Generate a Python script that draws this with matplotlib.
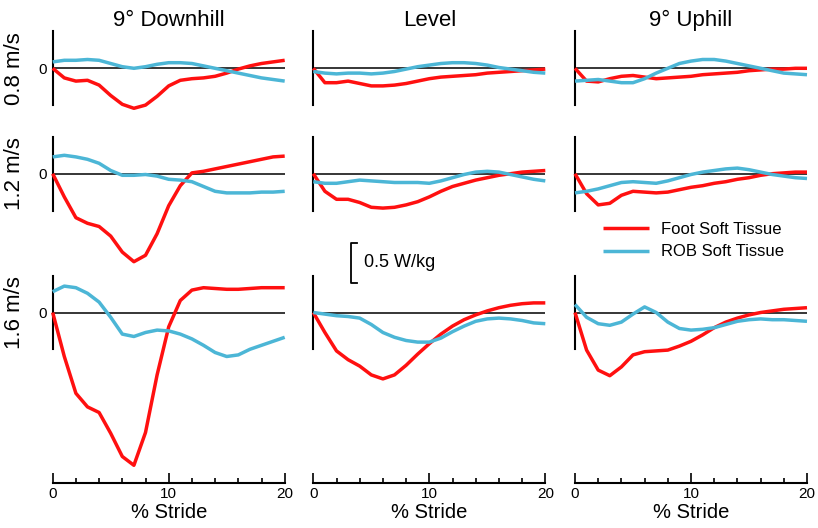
import numpy as np
import matplotlib.pyplot as plt
from matplotlib.ticker import MultipleLocator

plt.rcParams['font.family'] = ['Liberation Sans', 'DejaVu Sans']

# % stride sample points
stride = np.arange(0, 21)

slopes = ['9° Downhill', 'Level', '9° Uphill']
speeds = ['0.8 m/s', '1.2 m/s', '1.6 m/s']
series_names = ['Foot Soft Tissue', 'ROB Soft Tissue']

# power (W/kg)
foot_down_08 = [0, -0.12, -0.16, -0.15, -0.21, -0.34, -0.45, -0.50, -0.46, -0.35, -0.22,
                -0.15, -0.13, -0.12, -0.10, -0.06, -0.01, 0.03, 0.06, 0.08, 0.10]
rob_down_08 = [0.08, 0.10, 0.10, 0.11, 0.10, 0.06, 0.02, 0.00, 0.02, 0.05, 0.07,
               0.07, 0.06, 0.03, 0.00, -0.03, -0.06, -0.09, -0.12, -0.14, -0.16]
foot_down_12 = [0, -0.29, -0.55, -0.62, -0.66, -0.78, -0.98, -1.10, -1.02, -0.75, -0.40,
                -0.15, 0.01, 0.03, 0.06, 0.09, 0.12, 0.15, 0.18, 0.21, 0.22]
rob_down_12 = [0.21, 0.23, 0.21, 0.18, 0.13, 0.04, -0.02, -0.02, -0.01, -0.03, -0.07,
               -0.08, -0.10, -0.16, -0.22, -0.24, -0.24, -0.24, -0.23, -0.23, -0.22]
foot_down_16 = [0, -0.55, -1.01, -1.18, -1.25, -1.51, -1.80, -1.91, -1.50, -0.78, -0.18,
                0.15, 0.28, 0.31, 0.30, 0.29, 0.29, 0.30, 0.31, 0.31, 0.31]
rob_down_16 = [0.26, 0.33, 0.31, 0.24, 0.13, -0.06, -0.27, -0.30, -0.25, -0.22, -0.23,
               -0.27, -0.33, -0.41, -0.50, -0.55, -0.53, -0.46, -0.41, -0.36, -0.31]

foot_level_08 = [0, -0.18, -0.18, -0.16, -0.19, -0.22, -0.22, -0.21, -0.19, -0.16, -0.13,
                 -0.11, -0.10, -0.09, -0.08, -0.06, -0.05, -0.04, -0.03, -0.02, -0.01]
rob_level_08 = [-0.04, -0.06, -0.07, -0.06, -0.06, -0.07, -0.06, -0.04, -0.01, 0.02, 0.04,
                0.06, 0.07, 0.07, 0.06, 0.04, 0.01, -0.01, -0.03, -0.05, -0.06]
foot_level_12 = [0, -0.22, -0.32, -0.32, -0.36, -0.42, -0.43, -0.42, -0.39, -0.35, -0.29,
                 -0.22, -0.16, -0.12, -0.08, -0.05, -0.02, 0.00, 0.02, 0.03, 0.04]
rob_level_12 = [-0.10, -0.12, -0.12, -0.10, -0.08, -0.09, -0.10, -0.11, -0.11, -0.11, -0.12,
                -0.09, -0.05, -0.01, 0.02, 0.03, 0.02, -0.01, -0.04, -0.07, -0.09]
foot_level_16 = [0, -0.25, -0.48, -0.59, -0.67, -0.78, -0.83, -0.78, -0.66, -0.52, -0.39,
                 -0.27, -0.17, -0.09, -0.03, 0.02, 0.06, 0.09, 0.11, 0.12, 0.12]
rob_level_16 = [0.00, -0.02, -0.04, -0.05, -0.07, -0.15, -0.25, -0.31, -0.35, -0.37, -0.37,
                -0.32, -0.24, -0.17, -0.11, -0.08, -0.07, -0.08, -0.10, -0.13, -0.14]

foot_up_08 = [0, -0.16, -0.17, -0.13, -0.10, -0.09, -0.11, -0.13, -0.12, -0.11, -0.10,
              -0.08, -0.07, -0.06, -0.05, -0.03, -0.02, -0.01, -0.01, 0.00, 0.00]
rob_up_08 = [-0.16, -0.15, -0.14, -0.16, -0.18, -0.18, -0.13, -0.06, 0.00, 0.06, 0.09,
             0.11, 0.11, 0.09, 0.06, 0.03, 0.00, -0.03, -0.06, -0.07, -0.08]
foot_up_12 = [0, -0.25, -0.39, -0.37, -0.27, -0.22, -0.23, -0.24, -0.23, -0.20, -0.17,
              -0.15, -0.12, -0.10, -0.07, -0.05, -0.02, 0.00, 0.01, 0.02, 0.02]
rob_up_12 = [-0.24, -0.22, -0.19, -0.15, -0.11, -0.10, -0.11, -0.12, -0.09, -0.05, -0.01,
             0.02, 0.04, 0.06, 0.07, 0.05, 0.02, -0.01, -0.03, -0.05, -0.06]
foot_up_16 = [0, -0.47, -0.72, -0.79, -0.68, -0.53, -0.49, -0.48, -0.47, -0.42, -0.36,
              -0.28, -0.19, -0.12, -0.07, -0.03, 0.00, 0.02, 0.04, 0.05, 0.06]
rob_up_16 = [0.10, -0.06, -0.14, -0.16, -0.12, -0.02, 0.07, 0.00, -0.12, -0.20, -0.22,
             -0.21, -0.19, -0.15, -0.11, -0.09, -0.08, -0.09, -0.09, -0.10, -0.11]

# rows = speeds, cols = slopes
foot = [[foot_down_08, foot_level_08, foot_up_08],
        [foot_down_12, foot_level_12, foot_up_12],
        [foot_down_16, foot_level_16, foot_up_16]]
rob = [[rob_down_08, rob_level_08, rob_up_08],
       [rob_down_12, rob_level_12, rob_up_12],
       [rob_down_16, rob_level_16, rob_up_16]]

scale_bar = 0.5  # W/kg

RED = '#ff1010'
BLUE = '#4cb6d6'

# layout, in pixels
W, H = 818, 528
col_left = [52.7, 313.3, 575.0]
panel_w = 232.0
row_zero = [68.3, 173.7, 312.5]
px_per_unit = 80.0
y_half = 0.46
xaxis_px = 483.0

fig = plt.figure(figsize=(W / 100, H / 100), dpi=100)

axes = {}
for r in range(3):
    for c in range(3):
        h = 2 * y_half * px_per_unit
        ax = fig.add_axes([col_left[c] / W, 1 - (row_zero[r] + h / 2) / H,
                           panel_w / W, h / H])
        axes[r, c] = ax
        ax.set_xlim(0, 20)
        ax.set_ylim(-y_half, y_half)
        ax.patch.set_visible(False)
        for s in ['top', 'right']:
            ax.spines[s].set_visible(False)
        ax.spines['left'].set_linewidth(1.5)
        ax.axhline(0, color='black', lw=1.1, zorder=1)
        l1, = ax.plot(stride, foot[r][c], color=RED, lw=2.5, clip_on=False,
                      solid_joinstyle='round', solid_capstyle='butt', zorder=3)
        l2, = ax.plot(stride, rob[r][c], color=BLUE, lw=2.5, clip_on=False,
                      solid_joinstyle='round', solid_capstyle='butt', zorder=4)
        if c == 0:
            ax.set_yticks([0])
            ax.set_yticklabels(['0'], fontsize=11)
            ax.tick_params(axis='y', length=0, pad=4)
        else:
            ax.set_yticks([])
        if r == 2:
            ax.spines['bottom'].set_position(('data', -(xaxis_px - row_zero[r]) / px_per_unit))
            ax.spines['bottom'].set_linewidth(1.5)
            ax.xaxis.set_major_locator(MultipleLocator(10))
            ax.xaxis.set_minor_locator(MultipleLocator(2))
            ax.tick_params(axis='x', which='major', direction='in', length=7, width=1.2,
                           labelsize=11, pad=3)
            ax.tick_params(axis='x', which='minor', direction='in', length=3.6, width=1.2)
            ax.set_xlabel('% Stride', fontsize=14.5, labelpad=1)
        else:
            ax.spines['bottom'].set_visible(False)
            ax.set_xticks([])

# column titles and row labels
for c, name in enumerate(slopes):
    fig.text((col_left[c] + panel_w / 2) / W, 1 - 26 / H, name,
             ha='center', va='baseline', fontsize=16)
for r, name in enumerate(speeds):
    fig.text(15 / W, 1 - row_zero[r] / H, name, rotation=90,
             ha='center', va='center', fontsize=16)

# scale bar in the Level / 1.6 m/s panel
sb = axes[2, 1]
bar_bottom = 0.37
sb.plot([3.77, 3.25, 3.25, 3.77], [bar_bottom, bar_bottom, bar_bottom + scale_bar,
                                   bar_bottom + scale_bar],
        color='black', lw=1.3, clip_on=False)
sb.text(4.4, bar_bottom + scale_bar / 2, '0.5 W/kg', fontsize=13, va='center', ha='left')

fig.legend([l1, l2], series_names, loc='upper left',
           bbox_to_anchor=(603 / W, 1 - 222 / H), frameon=False, fontsize=12,
           handlelength=2.75, handletextpad=0.75, labelspacing=0.45,
           borderpad=0, borderaxespad=0)

fig.savefig('out.png', dpi=100)
